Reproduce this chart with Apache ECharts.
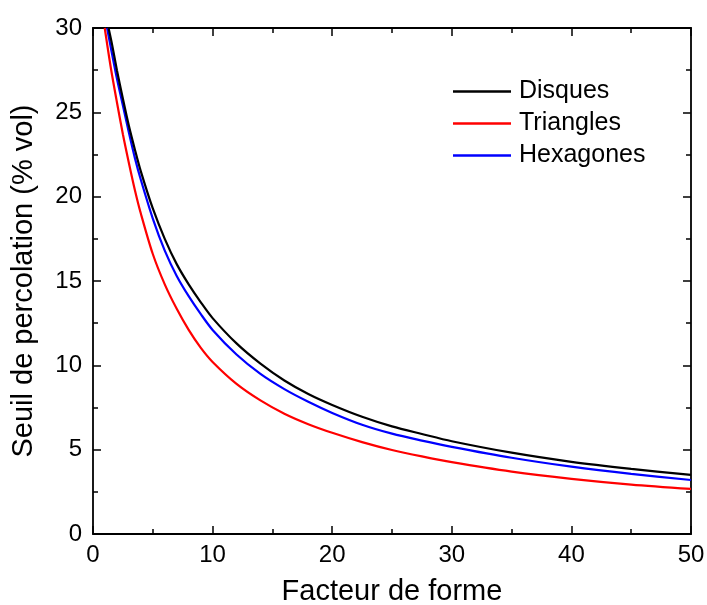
<!DOCTYPE html>
<html>
<head>
<meta charset="utf-8">
<script src="https://cdn.jsdelivr.net/npm/echarts@6/dist/echarts.min.js"></script>
<style>html,body{margin:0;padding:0;background:#fff}#c{width:707px;height:605px}</style>
</head>
<body>
<div id="c"></div>
<script>
var seriesNames = ['Disques', 'Triangles', 'Hexagones'];
var seriesColors = ['#000000', '#ff0000', '#0000ff'];

var disquesX = [1.3, 1.6, 2, 2.5, 3, 3.5, 4, 5, 6, 7, 8, 9, 10, 12, 14, 16, 18, 20, 22.5, 25, 27.5, 30, 35, 40, 45, 50];
var disquesY = [30, 29.0, 27.5, 25.8, 24.2, 22.8, 21.5, 19.3, 17.5, 16.0, 14.8, 13.75, 12.8, 11.3, 10.1, 9.1, 8.3, 7.65, 6.95, 6.38, 5.93, 5.5, 4.82, 4.28, 3.86, 3.5];

var hexX = [1.18, 1.5, 2, 2.5, 3, 3.5, 4, 5, 6, 7, 8, 9, 10, 12, 14, 16, 18, 20, 22.5, 25, 27.5, 30, 35, 40, 45, 50];
var hexY = [30, 28.8, 27.0, 25.4, 23.8, 22.3, 21.0, 18.7, 16.8, 15.3, 14.1, 13.05, 12.1, 10.64, 9.49, 8.59, 7.84, 7.18, 6.48, 5.95, 5.54, 5.17, 4.52, 3.99, 3.56, 3.2];

var triX = [0.98, 1.5, 2, 2.5, 3, 3.5, 4, 5, 6, 7, 8, 9, 10, 12, 14, 16, 18, 20, 22.5, 25, 27.5, 30, 35, 40, 45, 50];
var triY = [30, 27.6, 25.6, 23.7, 22.0, 20.4, 19.0, 16.6, 14.8, 13.35, 12.1, 11.05, 10.2, 8.9, 7.92, 7.13, 6.51, 6.0, 5.45, 4.98, 4.6, 4.26, 3.7, 3.27, 2.93, 2.67];

var xTitle = 'Facteur de forme';
var yTitle = 'Seuil de percolation (% vol)';

function pairs(xs, ys) { return xs.map(function (x, i) { return [x, ys[i]]; }); }
var seriesData = [pairs(disquesX, disquesY), pairs(triX, triY), pairs(hexX, hexY)];

var font = 'Liberation Sans, Arial, sans-serif';
var axisLineStyle = { color: '#000', width: 1.8 };

function mkX(show, pos) {
  return {
    type: 'value', min: 0, max: 50, interval: 10, position: pos,
    name: show ? xTitle : '', nameLocation: 'middle', nameGap: 43,
    nameTextStyle: { fontFamily: font, fontSize: 29, color: '#000' },
    axisLine: { show: true, onZero: false, lineStyle: axisLineStyle },
    axisTick: { show: true, inside: true, length: 8, lineStyle: { color: '#000', width: 1.5 } },
    minorTick: { show: true, splitNumber: 2, length: 5, lineStyle: { color: '#000', width: 1.5 } },
    axisLabel: { show: show, margin: 9, fontFamily: font, fontSize: 24, color: '#000' },
    splitLine: { show: false }
  };
}
function mkY(show, pos) {
  return {
    type: 'value', min: 0, max: 30, interval: 5, position: pos,
    name: show ? yTitle : '', nameLocation: 'middle', nameGap: 55,
    nameTextStyle: { fontFamily: font, fontSize: 29, color: '#000' },
    axisLine: { show: true, onZero: false, lineStyle: axisLineStyle },
    axisTick: { show: true, inside: true, length: 8, lineStyle: { color: '#000', width: 1.5 } },
    minorTick: { show: true, splitNumber: 2, length: 5, lineStyle: { color: '#000', width: 1.5 } },
    axisLabel: { show: show, margin: 11, fontFamily: font, fontSize: 24, color: '#000' },
    splitLine: { show: false }
  };
}

var chart = echarts.init(document.getElementById('c'), null, { renderer: 'canvas' });
chart.setOption({
  backgroundColor: '#fff',
  animation: false,
  grid: { left: 93, right: 16, top: 28, bottom: 71, containLabel: false, outerBoundsMode: 'none' },
  xAxis: [mkX(true, 'bottom'), mkX(false, 'top')],
  yAxis: [mkY(true, 'left'), mkY(false, 'right')],
  legend: {
    orient: 'vertical', left: 448, top: 74,
    itemWidth: 58, itemHeight: 2.5, itemGap: 7, icon: 'rect',
    textStyle: { fontFamily: font, fontSize: 25, color: '#000', lineHeight: 25, padding: [0, 0, 0, 3] },
    data: seriesNames
  },
  series: seriesNames.map(function (n, i) {
    return {
      name: n, type: 'line', xAxisIndex: 0, yAxisIndex: 0,
      data: seriesData[i], smooth: 0.3, showSymbol: false, symbol: 'none',
      color: seriesColors[i],
      lineStyle: { color: seriesColors[i], width: 2.2 },
      clip: true, z: 3 - i
    };
  })
});
</script>
</body>
</html>
